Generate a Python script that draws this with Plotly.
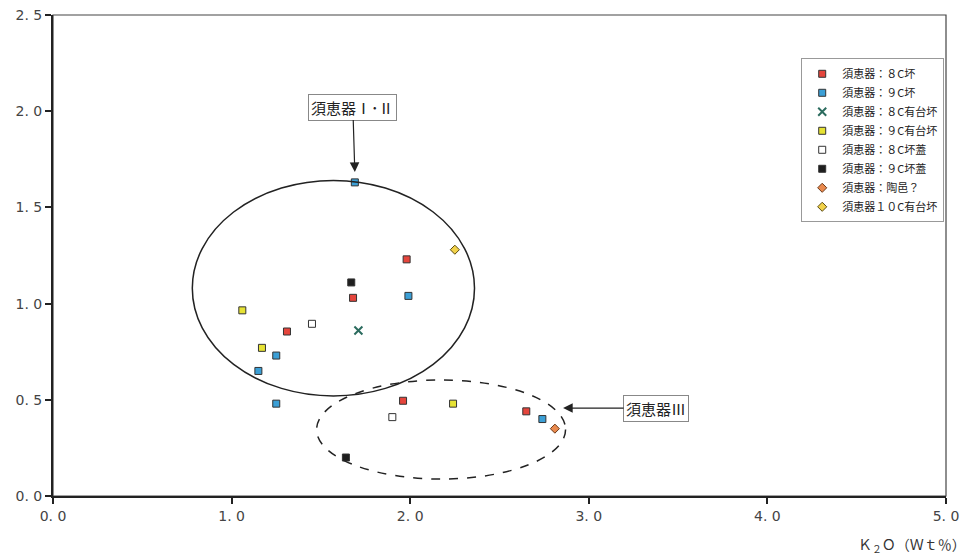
import plotly.graph_objects as go

# ---- data (K2O wt%, y value) ----
red_x = [1.31, 1.68, 1.98, 1.96, 2.65]
red_y = [0.855, 1.03, 1.23, 0.495, 0.44]
blue_x = [1.69, 1.99, 1.25, 1.15, 1.25, 2.74]
blue_y = [1.63, 1.04, 0.73, 0.65, 0.48, 0.40]
green_x = [1.71]
green_y = [0.86]
yellow_x = [1.06, 1.17, 2.24]
yellow_y = [0.965, 0.77, 0.48]
white_x = [1.45, 1.90]
white_y = [0.895, 0.41]
black_x = [1.67, 1.64]
black_y = [1.11, 0.20]
orange_x = [2.81]
orange_y = [0.35]
ydia_x = [2.25]
ydia_y = [1.28]

series_names = [
    "須恵器：８C坏", "須恵器：９C坏", "須恵器：８C有台坏", "須恵器：９C有台坏",
    "須恵器：８C坏蓋", "須恵器：９C坏蓋", "須恵器：陶邑？", "須恵器１０C有台坏",
]

x_ticks = [0, 1, 2, 3, 4, 5]
x_ticklabels = ["0. 0", "1. 0", "2. 0", "3. 0", "4. 0", "5. 0"]
y_ticks = [0, 0.5, 1.0, 1.5, 2.0, 2.5]
y_ticklabels = ["0. 0", "0. 5", "1. 0", "1. 5", "2. 0", "2. 5"]

FONT = "Noto Sans CJK JP"
outline = dict(color="#333333", width=1)

fig = go.Figure()
specs = [
    (red_x, red_y, "square", "#e5453c", outline, 7),
    (blue_x, blue_y, "square", "#3b9fd6", outline, 7),
    (green_x, green_y, "x-thin", "#2b6b5e", dict(color="#2b6b5e", width=2), 8),
    (yellow_x, yellow_y, "square", "#e6e234", outline, 7),
    (white_x, white_y, "square", "#ffffff", outline, 7),
    (black_x, black_y, "square", "#1e1e1e", outline, 7),
    (orange_x, orange_y, "diamond", "#ea8a4e", dict(color="#6b3a1a", width=1), 7),
    (ydia_x, ydia_y, "diamond", "#f2d24a", dict(color="#5a4a10", width=1), 7),
]
for (xs, ys, sym, col, line, sz), name in zip(specs, series_names):
    fig.add_trace(go.Scatter(
        x=xs, y=ys, mode="markers", name=name,
        marker=dict(symbol=sym, color=col, size=sz, line=line),
    ))

# ellipses
fig.add_shape(type="circle", xref="x", yref="y", x0=0.78, x1=2.36, y0=0.52, y1=1.64,
              line=dict(color="#222222", width=1.5))
fig.add_shape(type="circle", xref="x", yref="y", x0=1.476, x1=2.87, y0=0.088, y1=0.603,
              line=dict(color="#222222", width=1.5, dash="dash"))
# frame (top/right)
fig.add_shape(type="rect", xref="paper", yref="paper", x0=0, x1=1, y0=0, y1=1,
              line=dict(color="#444444", width=1.2), layer="below")

fig.add_annotation(x=1.69, y=1.684, xref="x", yref="y", text="須恵器Ⅰ･Ⅱ",
                   showarrow=True, arrowhead=2, arrowsize=1.6, arrowwidth=1.2,
                   arrowcolor="#222222", ax=-2, ay=-65,
                   bordercolor="#888888", borderwidth=1, borderpad=2, bgcolor="white",
                   font=dict(family=FONT, size=15, color="#222222"))
fig.add_annotation(x=2.856, y=0.457, xref="x", yref="y", text="須恵器Ⅲ",
                   showarrow=True, arrowhead=2, arrowsize=1.6, arrowwidth=1.2,
                   arrowcolor="#222222", ax=93, ay=0,
                   bordercolor="#888888", borderwidth=1, borderpad=2, bgcolor="white",
                   font=dict(family=FONT, size=15, color="#222222"))
fig.add_annotation(x=1.0246, y=-0.102, xref="paper", yref="paper", xanchor="right", yanchor="middle",
                   text="Ｋ<sub>２</sub>Ｏ（Ｗｔ％）", showarrow=False,
                   font=dict(family=FONT, size=14, color="#333333"))

# page body has an 8px margin, so the figure is 8px smaller and margins shifted
fig.update_layout(
    width=966, height=550,
    margin=dict(l=45, r=28, t=7, b=62, autoexpand=False),
    paper_bgcolor="white", plot_bgcolor="white",
    font=dict(family=FONT, size=13, color="#333333"),
    showlegend=True,
    legend=dict(x=0.998, y=0.91, xanchor="right", yanchor="top",
                bgcolor="white", bordercolor="#999999", borderwidth=1,
                font=dict(family=FONT, size=11, color="#222222"),
                itemwidth=30, tracegroupgap=0),
    xaxis=dict(range=[0, 5], tickvals=x_ticks, ticktext=x_ticklabels,
               showgrid=False, zeroline=False, showline=True, linecolor="#222222", linewidth=2,
               ticks="outside", ticklen=6, tickcolor="#222222", tickwidth=2,
               ticklabeloverflow="allow",
               tickfont=dict(family="DejaVu Sans", size=14, color="#444444")),
    yaxis=dict(range=[0, 2.5], tickvals=y_ticks, ticktext=y_ticklabels,
               showgrid=False, zeroline=False, showline=True, linecolor="#222222", linewidth=2,
               ticks="outside", ticklen=6, tickcolor="#222222", tickwidth=2,
               ticklabeloverflow="allow",
               tickfont=dict(family="DejaVu Sans", size=14, color="#444444")),
)

fig.write_html("out.html")
